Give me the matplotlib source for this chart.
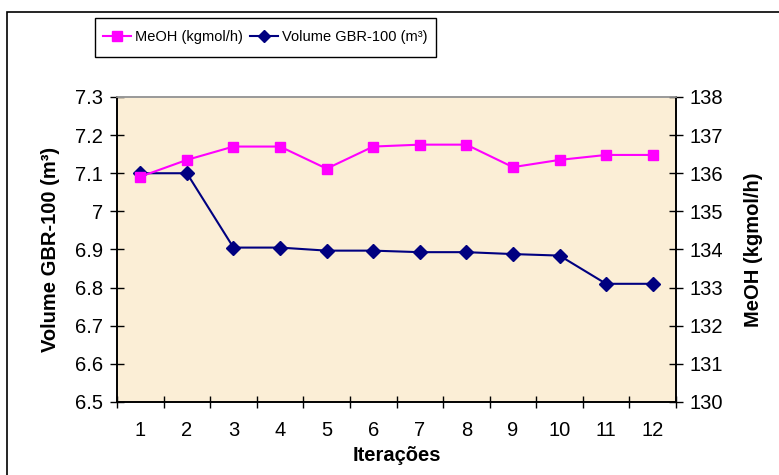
import matplotlib
matplotlib.use("Agg")
import matplotlib.pyplot as plt
from matplotlib.lines import Line2D
from matplotlib.patches import Rectangle

plt.rcParams['font.family'] = ['Liberation Sans', 'DejaVu Sans']

iteracoes = [1, 2, 3, 4, 5, 6, 7, 8, 9, 10, 11, 12]
volume_gbr = [7.10, 7.10, 6.905, 6.905, 6.897, 6.897, 6.893, 6.893, 6.888, 6.884, 6.81, 6.81]
meoh = [135.91, 136.35, 136.70, 136.70, 136.12, 136.70, 136.75, 136.75, 136.16, 136.35, 136.48, 136.48]

left_ticks = [6.5, 6.6, 6.7, 6.8, 6.9, 7.0, 7.1, 7.2, 7.3]
left_labels = ['6.5', '6.6', '6.7', '6.8', '6.9', '7', '7.1', '7.2', '7.3']
right_ticks = [130, 131, 132, 133, 134, 135, 136, 137, 138]

W, H = 779, 475
fig = plt.figure(figsize=(W / 100, H / 100), dpi=100)
fig.patch.set_facecolor('white')

# outer chart frame
fig.add_artist(Rectangle((7 / W, -0.1), 1.2, 1.1 - 12 / H,
                         transform=fig.transFigure, fill=False,
                         edgecolor='black', linewidth=1.2))

ax = fig.add_axes([0.1502, 0.1537, 0.8678 - 0.1502, 0.7958 - 0.1537])
ax.set_facecolor('#FBEED6')
ax2 = ax.twinx()

ax.plot(iteracoes, volume_gbr, color='#000080', marker='D', markersize=7,
        linewidth=1.5, zorder=3)
ax2.plot(iteracoes, meoh, color='#FF00FF', marker='s', markersize=7,
         linewidth=1.5, zorder=3)

ax.set_xlim(0.5, 12.5)
ax.set_ylim(6.5, 7.3)
ax2.set_ylim(130, 138)

ax.set_yticks(left_ticks)
ax.set_yticklabels(left_labels)
ax2.set_yticks(right_ticks)

# category boundaries carry the tick marks, labels sit at the centres
ax.set_xticks([i + 0.5 for i in range(0, 13)])
ax.set_xticklabels([])
ax.set_xticks(iteracoes, minor=True)
ax.set_xticklabels([str(i) for i in iteracoes], minor=True)
ax.tick_params(axis='x', which='major', direction='inout', length=9, width=1)
ax.tick_params(axis='x', which='minor', length=0, pad=14, labelsize=14.5)
ax.tick_params(axis='y', direction='inout', length=10, width=1, labelsize=14.5, pad=5)
ax2.tick_params(axis='y', direction='inout', length=10, width=1, labelsize=14.5, pad=5)

for a in (ax, ax2):
    a.spines['top'].set_color('#999999')
    a.spines['left'].set_color('black')
    a.spines['right'].set_color('black')
    a.spines['bottom'].set_color('black')
    for s in a.spines.values():
        s.set_linewidth(1.2)

ax.set_ylabel('Volume GBR-100 (m³)', fontsize=14.5, fontweight='bold', labelpad=11)
ax2.set_ylabel('MeOH (kgmol/h)', fontsize=14.5, fontweight='bold', labelpad=15)
ax.set_xlabel('Iterações', fontsize=14.5, fontweight='bold', labelpad=4)

# legend box
fig.add_artist(Rectangle((95 / W, 1 - 57 / H), (436 - 95) / W, 39 / H,
                         transform=fig.transFigure, fill=True,
                         facecolor='white', edgecolor='black', linewidth=1.0))
handles = [
    Line2D([], [], color='#FF00FF', marker='s', markersize=7, linewidth=1.5),
    Line2D([], [], color='#000080', marker='D', markersize=6, linewidth=1.5),
]
leg = fig.legend(handles, ['MeOH (kgmol/h)', 'Volume GBR-100 (m³)'],
                 loc='center', bbox_to_anchor=(265.5 / W, 1 - 37.5 / H),
                 ncol=2, frameon=False, fontsize=10.5,
                 handlelength=1.9, handletextpad=0.3, columnspacing=0.5,
                 borderpad=0.2)

fig.savefig('out.png', dpi=100, facecolor='white')
